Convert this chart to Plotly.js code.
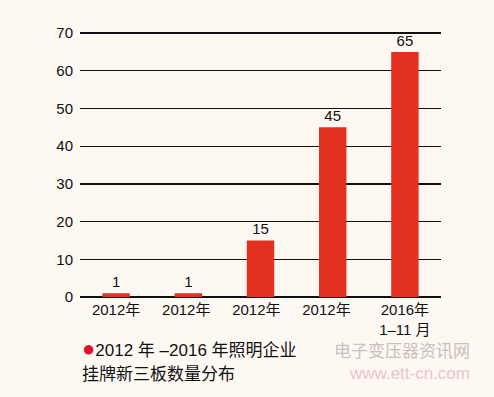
<!DOCTYPE html>
<html><head><meta charset="utf-8">
<script src="https://cdn.plot.ly/plotly-3.0.1.min.js"></script>
<style>html,body{margin:0;padding:0;background:#fdf8f1;}#c{width:494px;height:397px;}</style>
</head><body><div id="c"></div>
<script>
const categories = ["2012年", "2012年 ", "2012年  ", "2012年   ", "2016年<br>1–11 月"];
const values = [1, 1, 15, 45, 65];
const yTicks = [0, 10, 20, 30, 40, 50, 60, 70];

const font = "Liberation Sans, Arial, Noto Sans CJK SC, sans-serif";
const data = [{
  type: "bar", x: categories, y: values,
  marker: {color: "#e2321f"},
  text: values.map(String), textposition: "outside",
  textfont: {family: font, size: 15, color: "#111"},
  cliponaxis: false, width: 0.38
}];
const layout = {
  width: 494, height: 397,
  paper_bgcolor: "#fdf8f1", plot_bgcolor: "#fdf8f1",
  margin: {l: 80, r: 53, t: 32, b: 100},
  showlegend: false,
  font: {family: font, size: 15, color: "#111"},
  xaxis: {type: "category", showgrid: false, ticks: "", tickfont: {size: 15}, zeroline: false, showline: false, ticklabelstandoff: 2},
  yaxis: {range: [0, 70.3], tickvals: yTicks, showgrid: true, gridcolor: "#111", gridwidth: 1.3,
          zeroline: true, zerolinecolor: "#111", zerolinewidth: 2.5, ticks: "", ticklabelstandoff: 6,
          tickfont: {size: 15}, showline: false},
  annotations: [
    {xref: "paper", yref: "paper", x: 0.0, y: -0.196, xanchor: "left", yanchor: "middle", showarrow: false,
     text: "<span style='color:#e0102a;font-size:22px'>●</span>2012 年 –2016 年照明企业", font: {size: 17, color: "#111", family: "Liberation Sans, Noto Sans CJK SC, sans-serif"}},
    {xref: "paper", yref: "paper", x: 0.0, y: -0.286, xanchor: "left", yanchor: "middle", showarrow: false,
     text: "挂牌新三板数量分布", font: {size: 17, color: "#111", family: "Noto Sans CJK SC, sans-serif"}},
    {xref: "paper", yref: "paper", x: 1.086, y: -0.238, xanchor: "right", yanchor: "middle", align: "right", showarrow: false,
     text: "<span style='font-family:Noto Sans CJK SC'>电子变压器资讯网</span><br><span style='color:#ecc4cc'>www.ett-cn.com</span>",
     font: {size: 17, color: "#c8c0c0", family: "Liberation Sans, Noto Sans CJK SC, sans-serif"}}
  ]
};
Plotly.newPlot("c", data, layout, {displayModeBar: false, staticPlot: true});
</script></body></html>
